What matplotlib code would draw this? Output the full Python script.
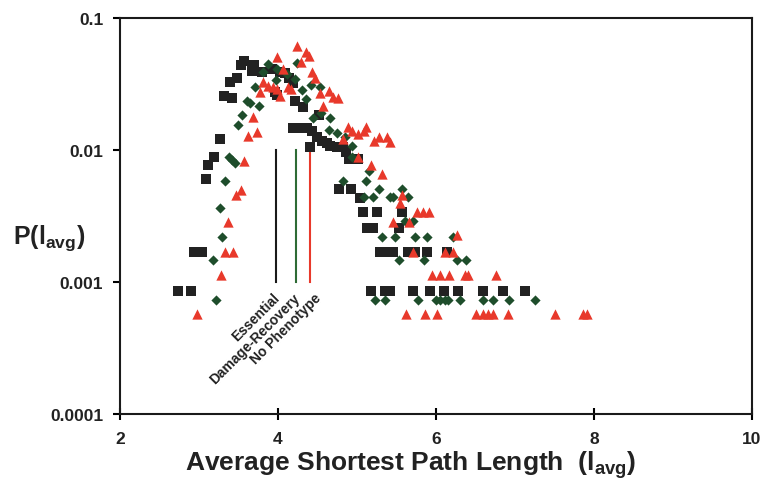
import matplotlib
matplotlib.use("Agg")
import matplotlib.pyplot as plt
from matplotlib.ticker import NullLocator, FixedLocator, FixedFormatter

plt.rcParams['font.family'] = ['Liberation Sans', 'DejaVu Sans']
plt.rcParams['font.weight'] = 'bold'
plt.rcParams['mathtext.fontset'] = 'custom'
plt.rcParams['mathtext.rm'] = 'Liberation Sans:bold'
plt.rcParams['mathtext.it'] = 'Liberation Sans:bold'
plt.rcParams['mathtext.bf'] = 'Liberation Sans:bold'

# Essential (black squares)
ess_x = [2.73, 2.90, 2.94, 3.04, 3.09, 3.11, 3.19, 3.27, 3.32, 3.42,
         3.39, 3.48, 3.53, 3.57, 3.70, 3.67, 3.80, 3.92, 4.03, 4.09,
         4.14, 4.19, 3.96, 3.99, 4.22, 4.32, 4.52, 4.19, 4.28, 4.37,
         4.43, 4.41, 4.49, 4.56, 4.62, 4.66, 4.75, 4.82, 4.86, 4.90,
         4.95, 5.01, 4.77, 4.92, 5.04, 5.08, 5.25, 5.57, 5.13, 5.20,
         5.53, 5.29, 5.38, 5.46, 5.65, 5.73, 5.89, 6.14, 5.18, 5.35,
         5.42, 5.71, 5.92, 6.10, 6.28, 6.59, 6.85, 7.13]
ess_p = [0.00085, 0.00085, 0.0017, 0.0017, 0.0060, 0.0077, 0.0088, 0.0121, 0.0256, 0.0248,
         0.0327, 0.0351, 0.0441, 0.0472, 0.0441, 0.0397, 0.0390, 0.0411, 0.0390, 0.0383,
         0.0351, 0.0322, 0.0275, 0.0261, 0.0235, 0.0212, 0.0184, 0.0147, 0.0147, 0.0147,
         0.0139, 0.0105, 0.0125, 0.0117, 0.0113, 0.0107, 0.0105, 0.0105, 0.0097, 0.00855,
         0.00855, 0.00855, 0.0051, 0.0051, 0.0043, 0.0034, 0.0034, 0.0034, 0.00256, 0.00256,
         0.00256, 0.0017, 0.0017, 0.0017, 0.0017, 0.0017, 0.0017, 0.0017, 0.00085, 0.00085,
         0.00085, 0.00085, 0.00085, 0.00085, 0.00085, 0.00085, 0.00085, 0.00085]

# Damage-Recovery (green diamonds)
dmg_x = [3.22, 5.23, 5.35, 5.77, 6.00, 6.05, 6.11, 6.15, 6.30, 6.59,
         6.72, 6.92, 7.25, 3.18, 5.53, 5.85, 6.27, 6.38, 3.29, 5.32,
         5.48, 5.73, 5.89, 6.22, 5.61, 5.71, 3.27, 5.09, 5.20, 5.42,
         5.46, 5.65, 5.28, 5.57, 3.33, 4.82, 5.11, 5.15, 4.94, 3.38,
         3.42, 3.46, 3.49, 3.54, 3.61, 3.65, 3.76, 3.71, 3.87, 3.99,
         3.98, 3.81, 4.11, 4.24, 4.22, 4.30, 4.42, 4.53, 4.36, 4.54,
         4.44, 4.66, 4.65, 4.75, 4.85, 4.94]
dmg_p = [0.00073, 0.00073, 0.00073, 0.00073, 0.00073, 0.00073, 0.00073, 0.00073, 0.00073, 0.00073,
         0.00073, 0.00073, 0.00073, 0.00146, 0.00146, 0.00146, 0.00146, 0.00146, 0.0022, 0.0022,
         0.0022, 0.0022, 0.0022, 0.0022, 0.0029, 0.0029, 0.00365, 0.0044, 0.0044, 0.0044,
         0.0044, 0.0044, 0.0051, 0.0051, 0.0058, 0.0058, 0.0058, 0.0069, 0.0088, 0.0088,
         0.0084, 0.0080, 0.0155, 0.0184, 0.0235, 0.0227, 0.0216, 0.0300, 0.0449, 0.0411,
         0.0339, 0.0390, 0.0377, 0.0456, 0.0345, 0.0285, 0.0311, 0.0300, 0.0243, 0.0191,
         0.0175, 0.0175, 0.0142, 0.0135, 0.0125, 0.0107]

# No Phenotype (red triangles)
nop_x = [2.97, 5.62, 5.86, 6.01, 6.51, 6.59, 6.66, 6.72, 6.91, 7.51,
         7.86, 7.91, 3.28, 5.95, 6.05, 6.16, 6.37, 6.41, 6.76, 3.33,
         3.43, 5.71, 6.11, 6.22, 6.27, 3.37, 5.46, 5.66, 5.76, 5.84,
         5.91, 5.54, 3.47, 5.57, 3.53, 3.57, 5.18, 5.32, 5.01, 3.62,
         3.73, 3.68, 3.99, 4.24, 4.35, 4.39, 4.29, 4.06, 4.43, 4.47,
         3.81, 3.87, 3.94, 3.99, 3.77, 4.03, 4.13, 4.16, 4.53, 4.65,
         4.70, 4.76, 4.57, 4.89, 4.94, 5.01, 5.11, 5.09, 4.82, 5.28,
         5.38, 5.42, 5.22]
nop_p = [0.00057, 0.00057, 0.00057, 0.00057, 0.00057, 0.00057, 0.00057, 0.00057, 0.00057, 0.00057,
         0.00057, 0.00057, 0.00114, 0.00114, 0.00114, 0.00114, 0.00114, 0.00114, 0.00114, 0.0017,
         0.0017, 0.0017, 0.0017, 0.0017, 0.00228, 0.00285, 0.00285, 0.00285, 0.0034, 0.0034,
         0.0034, 0.0040, 0.00456, 0.00456, 0.0050, 0.0083, 0.0077, 0.0066, 0.0088, 0.0128,
         0.0137, 0.0178, 0.0507, 0.0614, 0.0552, 0.0515, 0.0464, 0.0411, 0.0390, 0.0351,
         0.0327, 0.0305, 0.0300, 0.0290, 0.0275, 0.0256, 0.0300, 0.0290, 0.0270, 0.0280,
         0.0252, 0.0248, 0.0216, 0.0149, 0.0139, 0.0132, 0.0149, 0.0139, 0.0121, 0.0125,
         0.0125, 0.0115, 0.0117]

# group averages (vertical markers)
avg_labels = ['Essential', 'Damage-Recovery', 'No Phenotype']
avg_x = [3.97, 4.23, 4.41]
avg_colors = ['#1a1a1a', '#2e6b35', '#e8392b']
label_shift = [-3, -3, 4]   # px nudges so the rotated labels don't collide

yticks = [0.0001, 0.001, 0.01, 0.1]
ytick_labels = ['0.0001', '0.001', '0.01', '0.1']
xticks = [2, 4, 6, 8, 10]

fig = plt.figure(figsize=(7.67, 4.89), dpi=100)
ax = fig.add_axes([0.1565, 0.1513, 0.8239, 0.8098])

ax.scatter(ess_x, ess_p, marker='s', s=50, color='#222222', linewidths=0, zorder=3)
ax.scatter(dmg_x, dmg_p, marker='D', s=27, color='#1e4d2b', linewidths=0, zorder=4)
ax.scatter(nop_x, nop_p, marker='^', s=55, color='#e8392b', linewidths=0, zorder=5)

for lab, xv, c, dx in zip(avg_labels, avg_x, avg_colors, label_shift):
    ax.plot([xv, xv], [0.001, 0.01], color=c, lw=1.5, zorder=2)
    ax.annotate(lab, xy=(xv, 0.001), xytext=(dx * 0.72, -6), textcoords='offset points',
                rotation=45, rotation_mode='anchor', ha='right', va='top',
                fontsize=10, fontweight='bold', color='#222222')

ax.set_yscale('log')
ax.set_xlim(2, 10)
ax.set_ylim(0.0001, 0.1)
ax.yaxis.set_major_locator(FixedLocator(yticks))
ax.yaxis.set_major_formatter(FixedFormatter(ytick_labels))
ax.yaxis.set_minor_locator(NullLocator())
ax.set_xticks(xticks)
ax.set_xticklabels([str(t) for t in xticks])

for sp in ax.spines.values():
    sp.set_linewidth(1.5)
    sp.set_color('#1a1a1a')
ax.tick_params(axis='y', direction='out', length=5, width=1.5, labelsize=12.5, pad=7)
ax.tick_params(axis='x', direction='inout', length=8, width=1.5, labelsize=12.5, pad=8)
for t in ax.get_xticklabels() + ax.get_yticklabels():
    t.set_fontweight('bold')
    t.set_color('#222222')

fig.text(49 / 767, 1 - 238 / 489, r'P(l$_{avg}$)', ha='center', va='center',
         fontsize=18, fontweight='bold', color='#222222')
fig.text(411 / 767, 1 - 465 / 489, r'Average Shortest Path Length  (l$_{avg}$)',
         ha='center', va='center', fontsize=19, fontweight='bold', color='#222222')

fig.savefig('out.png', dpi=100)
